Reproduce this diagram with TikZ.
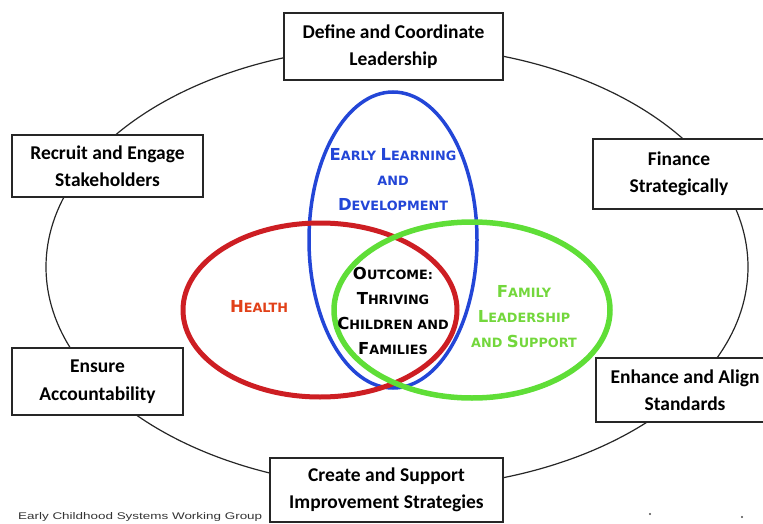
\documentclass[tikz,border=0pt]{standalone}
\usepackage{fontspec}
\setmainfont{Carlito}
\newfontfamily\handfont{DejaVu Sans}
\newfontfamily\footfont{Liberation Sans}
\definecolor{vblue}{RGB}{35,70,215}
\definecolor{vred}{RGB}{205,30,35}
\definecolor{vgreen}{RGB}{95,222,55}
\definecolor{hred}{RGB}{225,65,25}
\definecolor{lgreen}{RGB}{115,215,60}
\newcommand\bc[1]{{\fontsize{16.5}{16.5}\selectfont #1}}
\begin{document}
\begin{tikzpicture}[x=1pt,y=-1pt,
  box/.style={draw=black!85, line width=1.4pt, fill=white, inner sep=0pt, align=center,
    font=\bfseries\fontsize{19.5}{27.5}\selectfont},
  lab/.style={align=center, inner sep=0pt, font=\handfont\bfseries\fontsize{12.8}{25}\selectfont}]
\useasboundingbox (0,0) rectangle (763,524);
\clip (0,0) rectangle (763,524);
% outer ring
\draw[line width=1.2pt, black!85] (397,267) ellipse [x radius=351, y radius=221];
% boxes
\node[box, minimum width=219pt, minimum height=67pt] (lead) at (393.5,46.5) {Define and Coordinate\\Leadership};
\node[box, minimum width=191pt, minimum height=62pt] (recruit) at (107.5,166) {Recruit and Engage\\Stakeholders};
\node[box, minimum width=172pt, minimum height=70pt] (finance) at (679,174) {Finance\\Strategically};
\node[box, minimum width=171pt, minimum height=67pt] (ensure) at (97.5,381.5) {Ensure\\Accountability};
\node[box, minimum width=178pt, minimum height=64pt] (enhance) at (685,390) {Enhance and Align\\Standards};
\node[box, minimum width=233pt, minimum height=64pt] (create) at (386.5,490) {Create and Support\\Improvement Strategies};
% venn
\draw[vblue, line width=3.5pt] (393,240) ellipse [x radius=84, y radius=148];
\draw[vred, line width=5pt] (320,310) ellipse [x radius=137, y radius=87];
\draw[vgreen, line width=5.5pt] (472,310) ellipse [x radius=138, y radius=88];
% labels
\node[lab, text=vblue] (eld) at (393,180) {\bc{E}ARLY \bc{L}EARNING\\AND\\\bc{D}EVELOPMENT};
\node[lab, text=hred] (health) at (259,306) {\bc{H}EALTH};
\node[lab, text=black] (outcome) at (393,311) {\bc{O}UTCOME:\\\bc{T}HRIVING\\\bc{C}HILDREN AND\\\bc{F}AMILIES};
\node[lab, text=lgreen] (family) at (524,317) {\bc{F}AMILY\\\bc{L}EADERSHIP\\AND \bc{S}UPPORT};
% footer
\node[anchor=west, inner sep=0pt, text=black!80] (foot) at (18,517) {\resizebox{244pt}{7pt}{\footfont Early Childhood Systems Working Group}};
\fill[black!70] (650,514) circle (1.2pt);
\fill[black!70] (742,517) circle (1.2pt);
\end{tikzpicture}
\end{document}
